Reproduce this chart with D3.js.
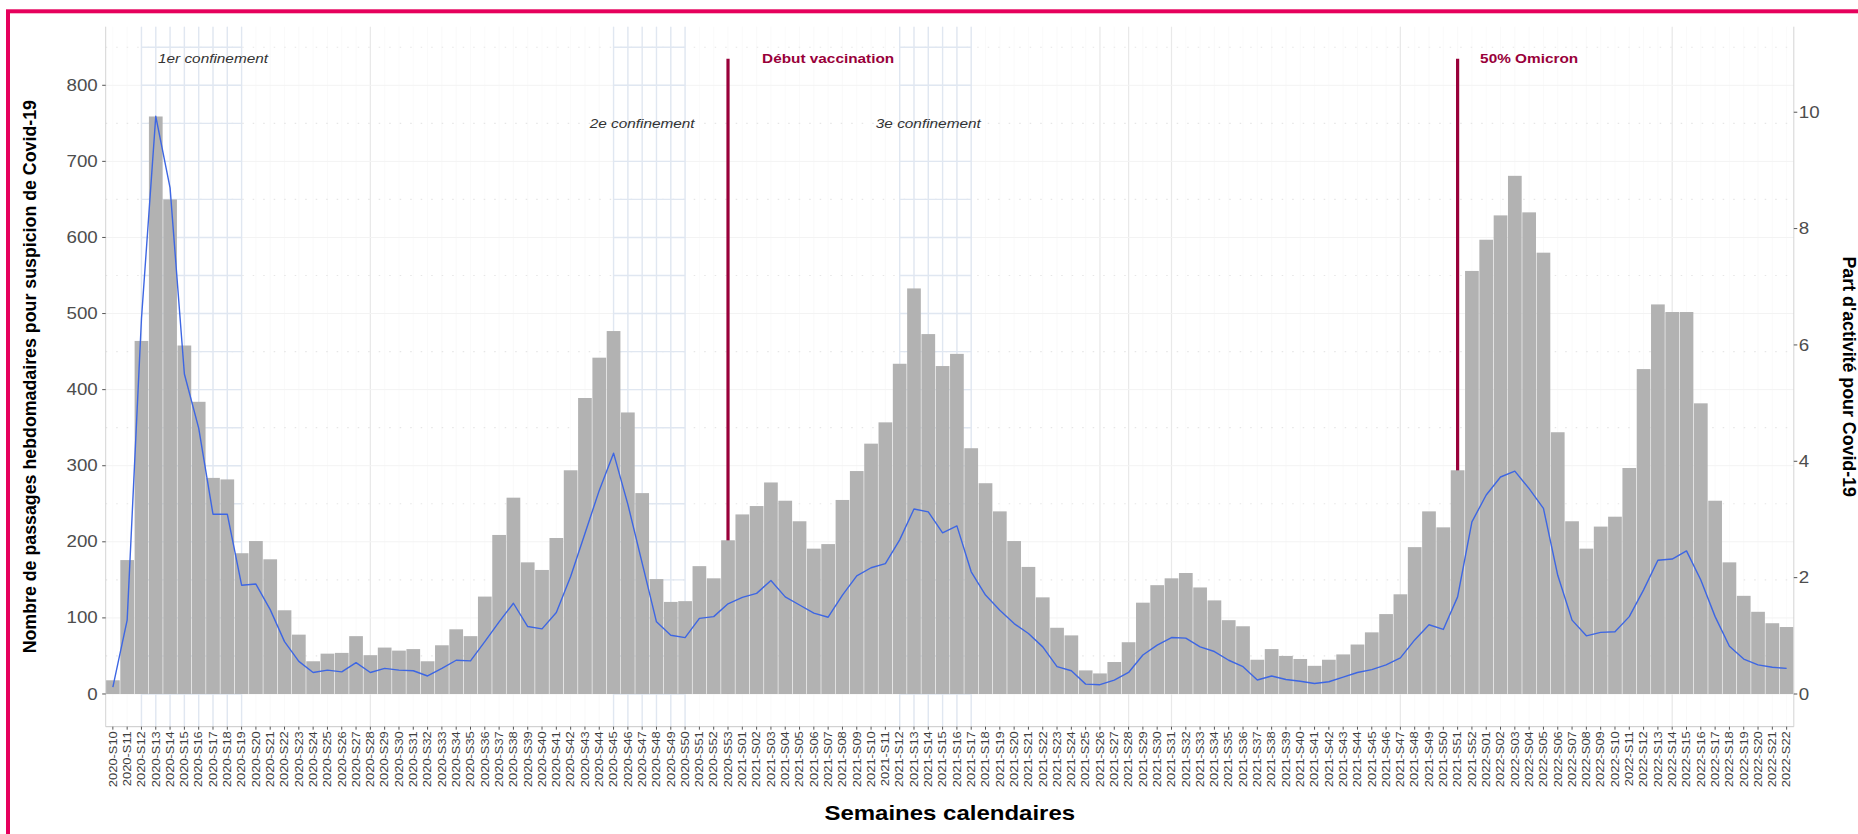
<!DOCTYPE html>
<html>
<head>
<meta charset="utf-8">
<script src="https://cdn.jsdelivr.net/npm/d3@7"></script>
<style>
  html, body { margin: 0; padding: 0; background: #ffffff; }
  svg { display: block; font-family: "Liberation Sans", Arial, Helvetica, sans-serif; }
</style>
</head>
<body>
<svg id="chart" width="1858" height="834"></svg>
<script>
// ---------------- DATA ----------------
const weeks2020 = d3.range(10, 54).map(w => "2020-S" + String(w).padStart(2, "0"));
const weeks2021 = d3.range(1, 53).map(w => "2021-S" + String(w).padStart(2, "0"));
const weeks2022 = d3.range(1, 23).map(w => "2022-S" + String(w).padStart(2, "0"));
const weeks = [...weeks2020, ...weeks2021, ...weeks2022];

// weekly ED visits for suspected Covid-19 (bars, left axis)
const counts2020 = [18, 176, 464, 759, 650, 458, 384, 284, 282, 185,
  201, 177, 110, 78, 43, 53, 54, 76, 51, 61,
  57, 59, 43, 64, 85, 76, 128, 209, 258, 173,
  163, 205, 294, 389, 442, 477, 370, 264, 151, 121,
  122, 168, 152, 202];
const counts2021 = [236, 247, 278, 254, 227, 191, 197, 255, 293, 329,
  357, 434, 533, 473, 431, 447, 323, 277, 240, 201,
  167, 127, 87, 77, 31, 27, 42, 68, 120, 143,
  152, 159, 140, 123, 97, 89, 45, 59, 50, 46,
  37, 45, 52, 65, 81, 105, 131, 193, 240, 219,
  294, 556];
const counts2022 = [597, 629, 681, 633, 580, 344, 227, 191, 220, 233,
  297, 427, 512, 502, 502, 382, 254, 173, 129, 108,
  93, 88];
const counts = [...counts2020, ...counts2021, ...counts2022];

// share of activity for Covid-19 (%), line, right axis
const share2020 = [0.12, 1.27, 6.45, 9.93, 8.70, 5.50, 4.57, 3.09, 3.09, 1.87,
  1.89, 1.45, 0.90, 0.56, 0.37, 0.41, 0.38, 0.54, 0.37, 0.44,
  0.41, 0.40, 0.31, 0.44, 0.58, 0.57, 0.90, 1.24, 1.56, 1.16,
  1.12, 1.40, 2.02, 2.76, 3.50, 4.14, 3.26, 2.25, 1.24, 1.01,
  0.97, 1.30, 1.33, 1.55];
const share2021 = [1.66, 1.73, 1.95, 1.67, 1.53, 1.39, 1.32, 1.70, 2.03, 2.17,
  2.24, 2.65, 3.18, 3.13, 2.77, 2.89, 2.10, 1.70, 1.44, 1.21,
  1.04, 0.81, 0.47, 0.40, 0.17, 0.16, 0.24, 0.37, 0.67, 0.84,
  0.97, 0.96, 0.81, 0.73, 0.58, 0.47, 0.24, 0.31, 0.25, 0.22,
  0.18, 0.21, 0.29, 0.37, 0.42, 0.50, 0.62, 0.93, 1.19, 1.11,
  1.67, 2.96];
const share2022 = [3.42, 3.73, 3.83, 3.53, 3.19, 2.04, 1.27, 1.00, 1.06, 1.07,
  1.33, 1.79, 2.30, 2.32, 2.46, 1.96, 1.33, 0.82, 0.60, 0.50,
  0.46, 0.44];
const shares = [...share2020, ...share2021, ...share2022];

const leftTicks = [0, 100, 200, 300, 400, 500, 600, 700, 800];
const rightTicks = [0, 2, 4, 6, 8, 10];
const leftDomain = [-43, 877];
const rightDomain = [-0.562, 11.47];

const confinements = [["2020-S12", "2020-S19"], ["2020-S45", "2020-S50"], ["2021-S12", "2021-S17"]];
const confLabels = [
  { text: "1er confinement", week: "2020-S17", value: 835 },
  { text: "2e confinement", week: "2020-S47", value: 750 },
  { text: "3e confinement", week: "2021-S14", value: 750 }
];
const eventLines = [
  { week: "2020-S53", text: "Début vaccination", labelWeek: "2021-S07", value: 835 },
  { week: "2021-S51", text: "50% Omicron", labelWeek: "2022-S04", value: 835 }
];
const faintWeeks = ["2020-S28", "2021-S26", "2021-S28", "2021-S31", "2021-S47", "2022-S14"];

const yTitleLeft = "Nombre de passages hebdomadaires pour suspicion de Covid-19";
const yTitleRight = "Part d'activité pour Covid-19";
const xTitle = "Semaines calendaires";

// ---------------- LAYOUT ----------------
const W = 1858, H = 834;
const panel = { left: 105.7, right: 1793.8, top: 26.7, bottom: 726.7 };
const SX = 1.2; // horizontal stretch of the source picture

const svg = d3.select("#chart");

const x = d3.scaleBand().domain(weeks).range([panel.left, panel.right]).paddingInner(0).paddingOuter(0);
const xc = w => x(w) + x.bandwidth() / 2;
const yL = d3.scaleLinear().domain(leftDomain).range([panel.bottom, panel.top]);
const yR = d3.scaleLinear().domain(rightDomain).range([panel.bottom, panel.top]);

// outer pink frame (right and bottom edges fall outside the picture)
svg.append("rect").attr("x", 8).attr("y", 11.3).attr("width", 1900).attr("height", 900)
  .attr("fill", "none").attr("stroke", "#e6005c").attr("stroke-width", 4);

const g = svg.append("g");

// background grid
g.append("g").selectAll("line").data(weeks).join("line")
  .attr("x1", d => xc(d)).attr("x2", d => xc(d))
  .attr("y1", panel.top).attr("y2", panel.bottom)
  .attr("stroke", "#f6f6f6").attr("stroke-width", 0.6);
g.append("g").selectAll("line").data(faintWeeks).join("line")
  .attr("x1", d => xc(d)).attr("x2", d => xc(d))
  .attr("y1", panel.top).attr("y2", panel.bottom)
  .attr("stroke", "#e9e9e9").attr("stroke-width", 1.2);
g.append("g").selectAll("line").data(leftTicks).join("line")
  .attr("x1", panel.left).attr("x2", panel.right)
  .attr("y1", d => yL(d)).attr("y2", d => yL(d))
  .attr("stroke", "#f3f3f3").attr("stroke-width", 1);
g.append("g").selectAll("line").data(leftTicks.map(v => v + 50)).join("line")
  .attr("x1", panel.left).attr("x2", panel.right)
  .attr("y1", d => yL(d)).attr("y2", d => yL(d))
  .attr("stroke", "#e6e6e6").attr("stroke-width", 1.2).attr("stroke-dasharray", "1.5 9");

// confinement grids
confinements.forEach(([a, b]) => {
  const i0 = weeks.indexOf(a), i1 = weeks.indexOf(b);
  const wk = weeks.slice(i0, i1 + 1);
  const cg = g.append("g");
  cg.selectAll("line.v").data(wk).join("line").attr("class", "v")
    .attr("x1", d => xc(d)).attr("x2", d => xc(d))
    .attr("y1", panel.top).attr("y2", panel.bottom)
    .attr("stroke", "#e0e7f1").attr("stroke-width", 1.4);
  cg.selectAll("line.h").data(d3.range(0, 851, 50)).join("line").attr("class", "h")
    .attr("x1", xc(a)).attr("x2", xc(b))
    .attr("y1", d => yL(d)).attr("y2", d => yL(d))
    .attr("stroke", "#e0e7f1").attr("stroke-width", 1.4);
});

// event vertical lines (behind bars)
g.append("g").selectAll("line").data(eventLines).join("line")
  .attr("x1", d => xc(d.week)).attr("x2", d => xc(d.week))
  .attr("y1", d => yL(d.value)).attr("y2", yL(0))
  .attr("stroke", "#99003a").attr("stroke-width", 3.2);

// bars
g.append("g").selectAll("rect").data(weeks).join("rect")
  .attr("x", d => x(d) + 0.3)
  .attr("width", x.bandwidth() - 0.6)
  .attr("y", (d, i) => yL(counts[i]))
  .attr("height", (d, i) => yL(0) - yL(counts[i]))
  .attr("fill", "#b2b2b2");

// line
const line = d3.line().x((d, i) => xc(weeks[i])).y(d => yR(d));
g.append("path").datum(shares).attr("d", line)
  .attr("fill", "none").attr("stroke", "#3d66e3").attr("stroke-width", 1.4)
  .attr("stroke-linejoin", "round");

// annotations
function htext(sel, xp, yp, txt, anchor) {
  return sel.append("text")
    .attr("transform", `translate(${xp},${yp}) scale(${SX},1)`)
    .attr("text-anchor", anchor).text(txt);
}
confLabels.forEach(d => {
  htext(g, xc(d.week), yL(d.value) + 4.5, d.text, "middle")
    .attr("font-size", 12.8).attr("font-style", "italic").attr("fill", "#333333");
});
eventLines.forEach(d => {
  htext(g, xc(d.labelWeek), yL(d.value) + 4.5, d.text, "middle")
    .attr("font-size", 12.8).attr("font-weight", "bold").attr("fill", "#99003a");
});

// axes lines
g.append("line").attr("x1", panel.left).attr("x2", panel.left).attr("y1", panel.top).attr("y2", panel.bottom)
  .attr("stroke", "#d4d4d4").attr("stroke-width", 1);
g.append("line").attr("x1", panel.right).attr("x2", panel.right).attr("y1", panel.top).attr("y2", panel.bottom)
  .attr("stroke", "#d4d4d4").attr("stroke-width", 1);
g.append("line").attr("x1", panel.left).attr("x2", panel.right).attr("y1", panel.bottom).attr("y2", panel.bottom)
  .attr("stroke", "#c8c8c8").attr("stroke-width", 1);

// left axis ticks and labels
const la = g.append("g");
la.selectAll("line").data(leftTicks).join("line")
  .attr("x1", panel.left - 3.5).attr("x2", panel.left)
  .attr("y1", d => yL(d)).attr("y2", d => yL(d)).attr("stroke", "#555").attr("stroke-width", 1);
leftTicks.forEach(v => {
  htext(la, panel.left - 8, yL(v) + 5.6, String(v), "end")
    .attr("font-size", 15.6).attr("fill", "#4d4d4d");
});

// right axis ticks and labels
const ra = g.append("g");
ra.selectAll("line").data(rightTicks).join("line")
  .attr("x1", panel.right).attr("x2", panel.right + 3.5)
  .attr("y1", d => yR(d)).attr("y2", d => yR(d)).attr("stroke", "#555").attr("stroke-width", 1);
rightTicks.forEach(v => {
  htext(ra, panel.right + 5, yR(v) + 5.6, String(v), "start")
    .attr("font-size", 15.6).attr("fill", "#4d4d4d");
});

// x axis ticks and labels
const xa = g.append("g");
xa.selectAll("line").data(weeks).join("line")
  .attr("x1", d => xc(d)).attr("x2", d => xc(d))
  .attr("y1", panel.bottom).attr("y2", panel.bottom + 3)
  .attr("stroke", "#555").attr("stroke-width", 1);
xa.selectAll("text").data(weeks).join("text")
  .attr("transform", d => `translate(${xc(d)},${panel.bottom + 4.5}) scale(0.9,1) rotate(-90)`)
  .attr("text-anchor", "end").attr("dominant-baseline", "central")
  .attr("font-size", 12.9).attr("fill", "#3d3d3d")
  .text(d => d);

// titles
htext(svg, (panel.left + panel.right) / 2, 820, xTitle, "middle")
  .attr("font-size", 20).attr("font-weight", "bold").attr("fill", "#000");
svg.append("text")
  .attr("transform", `translate(36,${(panel.top + panel.bottom) / 2}) rotate(-90)`)
  .attr("text-anchor", "middle").attr("font-size", 17.8).attr("font-weight", "bold").attr("fill", "#000")
  .text(yTitleLeft);
svg.append("text")
  .attr("transform", `translate(1843,${(panel.top + panel.bottom) / 2}) rotate(90)`)
  .attr("text-anchor", "middle").attr("font-size", 17.8).attr("font-weight", "bold").attr("fill", "#000")
  .text(yTitleRight);
</script>
</body>
</html>
